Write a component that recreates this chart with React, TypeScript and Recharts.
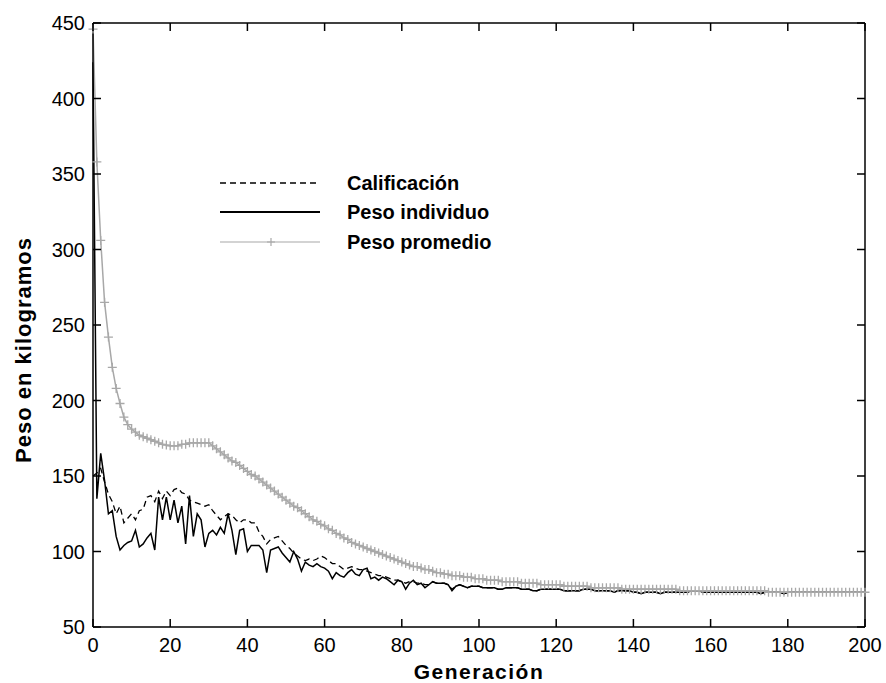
import React from 'react';
import { LineChart, Line, XAxis, YAxis, Legend } from 'recharts';

const FONT = '"Liberation Sans", Arial, Helvetica, sans-serif';

const generaciones: number[] = Array.from({ length: 201 }, (_, i) => i);

const xTicks = [0, 20, 40, 60, 80, 100, 120, 140, 160, 180, 200];
const yTicks = [50, 100, 150, 200, 250, 300, 350, 400, 450];

const promedio = [
  446, 358, 306, 265, 242, 222, 208, 198, 189, 184,
  181, 179, 177, 176, 175, 174, 173, 172, 171, 170.5,
  170, 170, 170, 171, 171, 172, 172, 172, 172, 172,
  172, 170, 168, 166, 164, 162, 160, 159, 157, 155,
  153, 151, 150, 148, 146, 144, 142, 140, 138, 136,
  134, 132, 130, 129, 127, 125, 123, 121, 120, 118,
  117, 115, 114, 112, 111, 109, 108, 106, 105, 104,
  103, 102, 101, 100, 99, 98, 97, 96, 95, 94,
  93, 92, 91, 90, 90, 89, 88, 88, 87, 86,
  86, 85, 85, 84, 84, 84, 83, 83, 83, 82,
  82, 82, 81, 81, 81, 81, 80, 80, 80, 80,
  80, 79, 79, 79, 79, 79, 78, 78, 78, 78,
  78, 78, 77, 77, 77, 77, 77, 77, 77, 76,
  76, 76, 76, 76, 76, 76, 76, 75, 75, 75,
  75, 75, 75, 75, 75, 75, 75, 75, 75, 75,
  75, 75, 74, 74, 74, 74, 74, 74, 74, 74,
  74, 74, 74, 74, 74, 74, 74, 74, 74, 74,
  74, 74, 74, 74, 74, 73, 73, 73, 73, 73,
  73, 73, 73, 73, 73, 73, 73, 73, 73, 73,
  73, 73, 73, 73, 73, 73, 73, 73, 73, 73,
  73,
];

const individuo = [
  424, 135, 165, 147, 125, 127, 110, 101, 104, 106,
  107, 114, 103, 105, 109, 112, 101, 136, 121, 136,
  121, 134, 119, 130, 105, 137, 110, 125, 121, 103,
  112, 114, 111, 116, 112, 125, 114, 98, 114, 115,
  100, 104, 104, 104, 101, 86, 101, 102, 103, 99,
  96, 93, 100, 95, 87, 93, 91, 90, 92, 90,
  89, 87, 82, 86, 84, 83, 86, 88, 85, 84,
  88, 89, 82, 83, 81, 83, 82, 80, 78, 81,
  80, 75, 79, 81, 78, 79, 76, 78, 80, 79,
  79, 79, 78, 74, 77, 78, 77, 76, 77, 77,
  77, 76, 76, 76, 76, 75, 75, 76, 76, 76,
  76, 75, 75, 75, 74, 74, 75, 75, 75, 75,
  75, 75, 74, 74, 74, 74, 74, 75, 75, 75,
  74, 74, 74, 74, 74, 73, 74, 74, 74, 74,
  73, 73, 72, 73, 73, 73, 73, 72, 73, 73,
  73, 73, 73, 73, 73, 74, 74, 74, 73, 73,
  73, 73, 73, 73, 73, 73, 73, 73, 73, 73,
  73, 73, 73, 72, 73, 73, 73, 73, 73, 72,
  73, 73, 73, 73, 73, 73, 73, 73, 73, 73,
  73, 73, 73, 73, 73, 73, 73, 73, 73, 73,
  73,
];

const calificacion = [
  150, 152, 155, 146, 138, 133, 125, 130, 119, 122,
  125, 121, 127, 128, 136, 137, 133, 140, 135, 140,
  137, 141, 142, 139, 138, 134, 133, 132, 131, 130,
  131, 127, 124, 121, 123, 125, 124, 121, 119, 121,
  121, 119, 119, 113, 110, 105, 108, 109, 110, 107,
  104, 102, 99, 97, 95, 94, 95, 94, 95, 97,
  96, 94, 92, 92, 90, 88, 89, 90, 89, 88,
  88, 87, 86, 85, 84, 84, 83, 82, 81, 81,
  80, 79, 80, 80, 79, 79, 78, 78, 80, 79,
  79, 79, 78, 75, 77, 78, 77, 76, 77, 77,
  77, 76, 76, 76, 76, 75, 75, 76, 76, 76,
  76, 75, 75, 75, 74, 74, 75, 75, 75, 75,
  75, 75, 74, 74, 74, 74, 74, 75, 75, 75,
  74, 74, 74, 74, 74, 73, 74, 74, 74, 74,
  73, 73, 72, 73, 73, 73, 73, 72, 73, 73,
  73, 73, 73, 73, 73, 74, 74, 74, 73, 73,
  73, 73, 73, 73, 73, 73, 73, 73, 73, 73,
  73, 73, 73, 72, 73, 73, 73, 73, 73, 72,
  73, 73, 73, 73, 73, 73, 73, 73, 73, 73,
  73, 73, 73, 73, 73, 73, 73, 73, 73, 73,
  73,
];

const data = generaciones.map((g, i) => ({
  gen: g,
  calificacion: calificacion[i],
  individuo: individuo[i],
  promedio: promedio[i],
}));

const GRAY = '#a8a8a8';
const TICK_LEN = 8;
const TICK_FS = 20;

const XTickBottom = (props: any) => {
  const { x, y, payload } = props;
  return (
    <g>
      <line x1={x} x2={x} y1={y} y2={y - TICK_LEN} stroke="#000" strokeWidth={1.5} />
      <text x={x} y={y + 25} textAnchor="middle" fontSize={TICK_FS} fontFamily={FONT} fill="#000">
        {payload.value}
      </text>
    </g>
  );
};

const XTickTop = (props: any) => {
  const { x, y } = props;
  return <line x1={x} x2={x} y1={y} y2={y + TICK_LEN} stroke="#000" strokeWidth={1.5} />;
};

const YTickLeft = (props: any) => {
  const { x, y, payload } = props;
  return (
    <g>
      <line x1={x} x2={x + TICK_LEN} y1={y} y2={y} stroke="#000" strokeWidth={1.5} />
      <text x={x - 8} y={y + 7} textAnchor="end" fontSize={TICK_FS} fontFamily={FONT} fill="#000">
        {payload.value}
      </text>
    </g>
  );
};

const YTickRight = (props: any) => {
  const { x, y } = props;
  return <line x1={x} x2={x - TICK_LEN} y1={y} y2={y} stroke="#000" strokeWidth={1.5} />;
};

const PlusDot = (props: any) => {
  const { cx, cy, index } = props;
  if (cx == null || cy == null) return <g key={`p${index}`} />;
  return (
    <path
      key={`p${index}`}
      d={`M${cx - 4.5},${cy}h9M${cx},${cy - 4.5}v9`}
      stroke={GRAY}
      strokeWidth={1.3}
      fill="none"
    />
  );
};

const renderLegend = () => (
  <svg width={330} height={95} style={{ display: 'block' }}>
    <line x1={2} x2={102} y1={18} y2={18} stroke="#000" strokeWidth={1.5} strokeDasharray="6 4" />
    <line x1={2} x2={102} y1={47} y2={47} stroke="#000" strokeWidth={1.8} />
    <line x1={2} x2={102} y1={77} y2={77} stroke={GRAY} strokeWidth={1.2} />
    <path d="M53,73v8M49,77h8" stroke={GRAY} strokeWidth={1.2} />
    <g fontFamily={FONT} fontWeight="bold" fontSize={20} fill="#000">
      <text x={129} y={25}>Calificación</text>
      <text x={129} y={54}>Peso individuo</text>
      <text x={129} y={84}>Peso promedio</text>
    </g>
  </svg>
);

export default function App() {
  return (
    <div style={{ position: 'absolute', left: 0, top: 0, width: 886, height: 683, background: '#fff' }}>
      <LineChart
        width={886}
        height={683}
        data={data}
        margin={{ top: 0, right: 0, bottom: 0, left: 0 }}
        style={{ background: '#fff' }}
      >
        <XAxis
          xAxisId="bottom"
          dataKey="gen"
          type="number"
          domain={[0, 200]}
          ticks={xTicks}
          interval={0}
          orientation="bottom"
          height={56}
          tickSize={0}
          tickMargin={0}
          tickLine={false}
          tick={<XTickBottom />}
          axisLine={{ stroke: '#000', strokeWidth: 1.5 }}
          label={(p: any) => {
            const vb = p.viewBox || {};
            return (
              <text
                x={vb.x + vb.width / 2}
                y={vb.y + 52}
                textAnchor="middle"
                fontFamily={FONT}
                fontWeight="bold"
                fontSize={21}
                letterSpacing={1.5}
                fill="#000"
              >
                Generación
              </text>
            );
          }}
        />
        <XAxis
          xAxisId="top"
          dataKey="gen"
          type="number"
          domain={[0, 200]}
          ticks={xTicks}
          interval={0}
          orientation="top"
          height={23}
          tickSize={0}
          tickMargin={0}
          tickLine={false}
          tick={<XTickTop />}
          axisLine={{ stroke: '#000', strokeWidth: 1.5 }}
        />
        <YAxis
          yAxisId="left"
          type="number"
          domain={[50, 450]}
          ticks={yTicks}
          interval={0}
          orientation="left"
          width={93}
          tickSize={0}
          tickMargin={0}
          tickLine={false}
          tick={<YTickLeft />}
          axisLine={{ stroke: '#000', strokeWidth: 1.5 }}
          allowDataOverflow
          label={(p: any) => {
            const vb = p.viewBox || {};
            const cx = vb.x + 23;
            const cy = vb.y + vb.height / 2 + 25;
            return (
              <text
                x={cx}
                y={cy}
                transform={`rotate(-90 ${cx} ${cy})`}
                textAnchor="middle"
                dominantBaseline="central"
                fontFamily={FONT}
                fontWeight="bold"
                fontSize={22}
                letterSpacing={1}
                fill="#000"
              >
                Peso en kilogramos
              </text>
            );
          }}
        />
        <YAxis
          yAxisId="right"
          type="number"
          domain={[50, 450]}
          ticks={yTicks}
          interval={0}
          orientation="right"
          width={21}
          tickSize={0}
          tickMargin={0}
          tickLine={false}
          tick={<YTickRight />}
          axisLine={{ stroke: '#000', strokeWidth: 1.5 }}
          allowDataOverflow
        />
        <Legend
          layout="vertical"
          align="center"
          verticalAlign="middle"
          content={renderLegend}
          wrapperStyle={{ left: 218, top: 165, width: 330, height: 95 }}
        />
        <Line
          xAxisId="bottom"
          yAxisId="left"
          type="linear"
          dataKey="calificacion"
          name="Calificación"
          stroke="#000"
          strokeWidth={1.3}
          strokeDasharray="6 4"
          dot={false}
          activeDot={false}
          isAnimationActive={false}
        />
        <Line
          xAxisId="bottom"
          yAxisId="left"
          type="linear"
          dataKey="individuo"
          name="Peso individuo"
          stroke="#000"
          strokeWidth={1.5}
          dot={false}
          activeDot={false}
          isAnimationActive={false}
        />
        <Line
          xAxisId="bottom"
          yAxisId="left"
          type="linear"
          dataKey="promedio"
          name="Peso promedio"
          stroke={GRAY}
          strokeWidth={1.5}
          dot={<PlusDot />}
          activeDot={false}
          isAnimationActive={false}
        />
      </LineChart>
    </div>
  );
}
